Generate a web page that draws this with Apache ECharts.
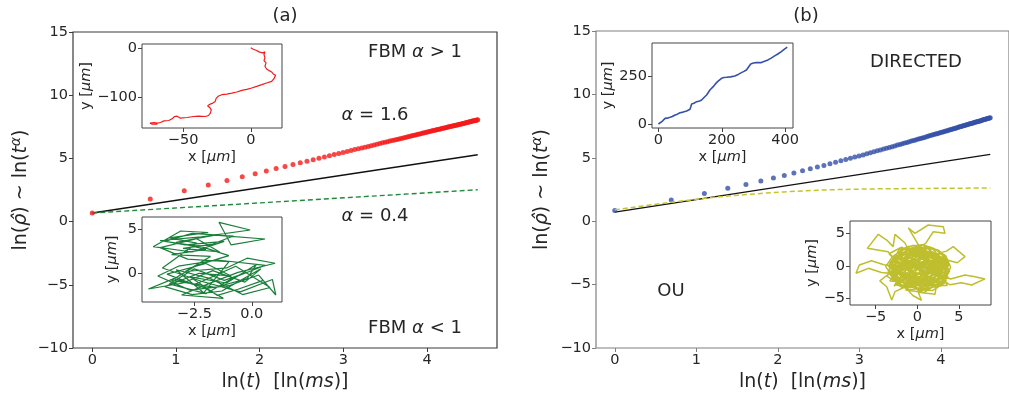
<!DOCTYPE html>
<html><head><meta charset="utf-8">
<script src="https://cdn.jsdelivr.net/npm/echarts@6/dist/echarts.min.js"></script>
<style>html,body{margin:0;padding:0;background:#fff}#c{width:1009px;height:397px}</style>
</head><body><div id="c"></div>
<script>
// ---- data ----
// ln(t) for t = 1..100 ms
const lnT = [0,0.693,1.099,1.386,1.609,1.792,1.946,2.079,2.197,2.303,2.398,2.485,2.565,2.639,2.708,2.773,2.833,2.890,2.944,2.996,
3.045,3.091,3.135,3.178,3.219,3.258,3.296,3.332,3.367,3.401,3.434,3.466,3.497,3.526,3.555,3.584,3.611,3.638,3.664,3.689,
3.714,3.738,3.761,3.784,3.807,3.829,3.850,3.871,3.892,3.912,3.932,3.951,3.970,3.989,4.007,4.025,4.043,4.060,4.078,4.094,
4.111,4.127,4.143,4.159,4.174,4.190,4.205,4.220,4.234,4.248,4.263,4.277,4.290,4.304,4.317,4.331,4.344,4.357,4.369,4.382,
4.394,4.407,4.419,4.431,4.443,4.454,4.466,4.477,4.489,4.500,4.511,4.522,4.533,4.543,4.554,4.564,4.575,4.585,4.595,4.605];
// panel (a): FBM alpha = 1.6 (red dots)
const fbmY = [0.68,1.79,2.44,2.90,3.25,3.55,3.79,4.01,4.20,4.36,4.52,4.66,4.78,4.90,5.01,5.12,5.21,5.30,5.39,5.47,
5.55,5.63,5.70,5.76,5.83,5.89,5.95,6.01,6.07,6.12,6.17,6.23,6.27,6.32,6.37,6.41,6.46,6.50,6.54,6.58,
6.62,6.66,6.70,6.73,6.77,6.81,6.84,6.87,6.91,6.94,6.97,7.00,7.03,7.06,7.09,7.12,7.15,7.18,7.20,7.23,
7.26,7.28,7.31,7.33,7.36,7.38,7.41,7.43,7.45,7.48,7.50,7.52,7.54,7.57,7.59,7.61,7.63,7.65,7.67,7.69,
7.71,7.73,7.75,7.77,7.79,7.81,7.83,7.84,7.86,7.88,7.90,7.92,7.93,7.95,7.97,7.98,8.00,8.02,8.03,8.05];
// panel (b): directed motion (blue dots)
const directedY = [0.85,1.67,2.19,2.59,2.90,3.17,3.41,3.61,3.80,3.97,4.13,4.27,4.40,4.53,4.65,4.76,4.86,4.96,5.06,5.15,
5.23,5.32,5.40,5.47,5.55,5.62,5.69,5.75,5.82,5.88,5.94,6.00,6.05,6.11,6.16,6.21,6.27,6.32,6.36,6.41,
6.46,6.50,6.55,6.59,6.63,6.67,6.71,6.75,6.79,6.83,6.87,6.90,6.94,6.98,7.01,7.04,7.08,7.11,7.14,7.18,
7.21,7.24,7.27,7.30,7.33,7.36,7.39,7.42,7.44,7.47,7.50,7.53,7.55,7.58,7.60,7.63,7.66,7.68,7.70,7.73,
7.75,7.78,7.80,7.82,7.85,7.87,7.89,7.91,7.93,7.96,7.98,8.00,8.02,8.04,8.06,8.08,8.10,8.12,8.14,8.16];
// reference lines (endpoints in ln t)
const refX = [0, 4.605];
const refAY = [0.68, 5.29];      // alpha = 1, panel (a)
const subAY = [0.68, 2.52];      // alpha = 0.4, panel (a)
const refBY = [0.72, 5.27];      // alpha = 1, panel (b)
// panel (b): OU curve (dashed), sampled at selected ln t
const ouLnT = [0,0.693,1.099,1.386,1.609,1.792,1.946,2.079,2.303,2.485,2.708,2.996,3.219,3.401,3.689,3.912,4.094,4.248,4.382,4.500,4.605];
const ouCurve = [0.90,1.50,1.80,1.98,2.10,2.19,2.26,2.31,2.39,2.44,2.49,2.53,2.55,2.56,2.58,2.59,2.60,2.60,2.61,2.61,2.61];
// inset trajectories [x, y] in um
const superX = [0,1.9,4.4,6.1,8.8,10.5,11.7,9.8,10.5,9.8,11.3,10.5,11.7,13.7,15.4,16.6,18.4,17.2,15.4,11.7,8.1,4.4,0.7,-3.0,-6.6,-10.3,-14.0,-17.7,-21.3,-23.8,-25.5,-26.3,-28,-29.9,-31.9,-30.4,-29.2,-29.9,-31.2,-33.6,-38.5,-42.2,-47.1,-52,-54.4,-56.4,-58.1,-60.6,-64.2,-66.7,-69.1,-71.6,-74.5,-75.7,-72.8,-69.1];
const superY = [0,-2.8,-5.5,-8.2,-10.2,-8.2,-10.2,-13.6,-20.3,-25.7,-30.4,-37.2,-42.6,-46,-48.6,-52.7,-55.4,-62.1,-67.5,-70.9,-74.3,-77.7,-81,-83.7,-85.8,-89.1,-91.2,-93.2,-94.5,-97.2,-101.3,-108,-111.4,-113.4,-116.8,-120.2,-124.9,-131.6,-136.4,-138.4,-137.7,-138.4,-140.4,-141.8,-137.7,-138.4,-143.1,-146.5,-147.2,-150.5,-151.8,-150.5,-151.8,-150.5,-153.9,-153.9];
const subPath = [[-0.1,0.2],[-1.2,-0.8],[-2.5,0.5],[-3.6,-1.2],[-2.0,-2.3],[-0.8,-0.5],[0.6,0.9],[-1.5,1.5],[-3.2,0.8],[-4.1,-0.3],
[-2.7,-1.9],[-1.0,-1.4],[0.3,-0.2],[1.05,-2.45],[0.9,-0.7],[-0.5,-2.1],[-2.2,-0.9],[-3.9,0.6],[-2.4,3.4],[-3.6,4.0],
[-1.9,4.6],[-3.1,4.77],[-4.3,3.0],[-2.6,2.4],[-1.2,3.6],[-2.9,3.2],[-4.0,3.7],[-2.2,4.1],[-0.07,4.88],[-1.43,5.75],
[-0.9,3.2],[0.58,3.87],[-1.6,4.3],[-3.3,3.5],[-2.0,2.7],[-3.5,2.1],[-1.8,1.9],[-2.9,0.2],[-1.1,0.6],[-0.2,1.7],
[1.02,1.13],[-0.6,0.1],[-1.9,-1.2],[-3.06,-2.45],[-1.24,-2.82],[-2.1,-1.6],[-3.4,-0.6],[-4.51,-1.77],[-3.0,-1.1],[-1.7,0.3],
[-0.3,-1.0],[0.4,0.5],[-1.3,-2.0],[-2.6,-2.4],[-3.8,-1.5],[-2.3,0.0],[-0.9,-0.3],[-2.0,1.1],[-3.7,-0.1],[-2.5,-1.3],
[-0.7,0.8],[0.8,-1.6],[-0.4,-2.4],[-1.8,-0.6],[-3.3,0.4],[-2.1,-2.2],[-1.0,1.3],[-2.8,1.6],[-4.0,2.9],[-2.4,3.9],
[-1.4,2.4],[-3.0,2.8],[-1.7,3.3],[-0.8,4.2],[-2.6,4.5],[-3.8,3.6],[-2.2,3.0],[-1.0,2.0],[-2.4,0.9],[-3.5,-0.8],
[-1.6,-1.6],[-0.2,-0.6],[0.2,1.0],[-1.1,-1.1],[-2.7,-0.4],[-1.5,-2.5],[-0.6,-1.8],[0.5,-0.8]];
const directedPath = [[0,0],[5,4],[10.6,12.3],[15,14],[21,30],[28,31],[36.8,35.3],[44,40],[52.5,47.6],[60,52],[68.2,59.9],[78,63],
[89.2,68.8],[99.7,77.6],[102,90],[104.9,105.8],[112,110],[120.7,118.1],[130,122],[136.4,127],[144,140],[152.1,153.4],[158,168],
[162.6,179.9],[168,190],[173,197.5],[180,212],[186.7,224],[192,233],[199.3,241.6],[207,246],[215,246.9],[228,249],[241.2,254],
[252,262],[262.2,271.6],[270,278],[277.9,285.7],[284,300],[291.5,317.5],[300,322],[309.3,324.5],[318,325],[325,324.5],[335,331],
[346,338.6],[356,348],[367,359.8],[377,370],[388,382.7],[397,394],[406.8,405.7]];
const ouPath = [[0,0],[1.2,-1.1],[2.5,0.3],[0.8,1.4],[-1.0,0.5],[-2.3,-0.8],[-0.9,-2.1],[0.7,-2.9],[2.1,-1.8],[3.2,-0.4],
[2.0,1.2],[0.3,2.4],[-1.4,1.8],[-2.8,0.9],[-3.4,-0.6],[-2.1,-2.2],[-0.5,-3.3],[1.3,-3.6],[2.8,-2.7],[3.6,-1.1],
[3.1,0.7],[1.6,1.9],[-0.2,2.9],[-1.8,2.5],[-3.0,1.4],[-3.8,-0.1],[-2.9,-1.7],[-1.3,-2.8],[0.4,-3.9],[1.9,-3.2],
[3.3,-2.0],[4.0,-0.2],[3.4,1.6],[2.0,2.7],[0.6,3.3],[-1.1,3.0],[-2.4,2.0],[-3.3,0.4],[-2.6,-1.2],[-1.5,-0.2],
[-4.0,0.2],[-5.5,0.8],[-6.96,0.15],[-7.36,-1.13],[-5.88,-0.36],[-4.3,-1.0],
[-0.4,-1.5],[0.9,-0.6],[1.8,0.8],[0.5,1.1],[-0.8,-0.4],[0.2,-2.0],[1.5,-2.3],[2.6,-1.0],[1.4,0.2],[-0.1,0.6],
[-1.7,-1.0],[-0.6,-2.6],[1.0,-1.7],[2.2,-0.2],[3.0,-1.6],[1.7,-3.0],[0.0,-2.4],[-1.6,-3.1],[-2.7,-2.4],[-1.2,-1.3],
[-3.5,2.2],[-6.0,2.73],[-4.68,4.9],[-3.67,4.02],[-2.9,3.0],[-2.68,4.9],[-1.5,3.6],
[0.3,-0.9],[1.9,-0.9],[2.9,0.4],[2.4,1.9],[1.0,2.2],[-0.5,1.7],[-2.0,1.0],[-1.1,-0.1],[0.6,0.3],[2.0,-0.5],
[0.2,3.1],[-1.08,5.92],[-0.28,5.05],[1.32,6.34],[3.12,6.08],[3.33,5.05],[1.92,5.3],[1.0,3.5],
[-0.7,2.2],[-2.2,0.2],[-3.1,-1.3],[-1.9,-2.9],[-0.2,-3.1],[1.6,-2.4],[3.4,-1.4],[3.7,0.3],[2.7,1.4],[1.1,2.8],
[-0.9,2.6],[-2.6,1.2],[-3.5,-0.9],[-2.3,-3.0],[-0.8,-3.7],[1.0,-3.2],[2.4,-2.2],[3.9,-0.8],[2.9,0.9],[1.3,1.6],
[3.5,2.3],[4.32,2.99],[5.73,1.44],[4.8,0.5],[3.7,0.9],
[2.2,-0.9],[0.5,-1.4],[-1.3,-0.6],[-2.5,0.6],[-1.6,2.1],[0.1,1.8],[1.7,0.6],[2.8,-0.6],[1.2,-1.2],[-0.4,-0.2],
[-1.9,-1.8],[-0.7,-1.0],[0.8,0.9],[2.3,0.1],[3.3,-1.2],[2.0,-2.6],[0.3,-2.8],[-1.4,-2.2],[-2.9,-0.5],[-2.1,1.4],
[4.0,-2.0],[5.73,-1.39],[6.93,-1.65],[8.13,-2.0],[6.53,-2.94],[5.3,-2.6],[3.9,-2.9],
[2.5,-1.6],[1.1,-0.1],[-0.3,1.2],[-1.9,0.3],[-3.0,-0.3],[-2.0,-1.4],[-0.6,-1.9],[0.8,-2.3],[2.3,-3.0],
[2.12,-4.38],[0.12,-4.07],[0.5,-5.3],[-0.5,-4.6],[-1.3,-3.5],
[-0.1,-1.2],[1.4,-0.4],[2.6,0.9],[1.5,2.3],[-0.3,2.1],[-1.5,0.9],[-0.2,0.1],[1.1,0.7],[2.1,-1.3],[0.7,-2.0],
[0.5,-0.3],[-1.2,0.9],[-2.8,-0.2],[-1.5,-1.9],[0.2,-1.1],[1.6,-2.8],[3.1,-2.3],[2.2,-0.8],[3.5,0.9],[2.1,2.0],
[0.4,1.5],[-1.0,2.7],[-2.2,1.6],[-3.2,-1.1],[-1.9,-3.3],[-0.3,-2.2],[1.2,-3.4],[2.7,-1.5],[1.3,-0.2],[2.8,1.1],
[1.9,2.6],[0.0,3.0],[-1.6,1.3],[-3.0,0.7],[-2.4,-2.0],[-0.9,-1.2],[0.6,-3.3],[2.0,-2.0],[3.7,-1.9],[3.2,0.1],
[1.7,1.2],[-0.2,1.9],[-1.9,2.9],[-3.4,1.9],[-2.0,0.1],[-3.3,-2.3],[-1.1,-2.5],[0.9,-1.9],[2.4,-3.4],[3.8,-1.0],
[2.6,0.6],[0.9,2.5],[-0.6,0.8],[-2.5,-1.5],[-0.8,-3.4],[1.5,-1.1],[3.0,-0.2],[1.0,1.0],[-1.4,2.0],[-2.6,0.9],
[-1.0,-0.7],[0.8,-2.6],[2.9,-3.1],[3.4,-0.7],[2.3,1.7],[0.2,1.2],[-1.8,-0.4],[-3.1,0.3],[-2.2,2.5],[-0.4,3.2],
[1.4,2.0],[3.0,1.8],[3.9,0.2],[2.0,-1.4],[0.1,-0.4],[-1.5,-2.7],[0.3,-3.6],[1.8,-3.8],[3.3,-2.6],[1.2,-1.6],
[-0.5,-0.9],[-2.2,-2.8],[-3.6,-1.6],[-2.9,1.0],[-1.3,0.0],[0.7,0.7],[2.5,-0.3],[1.1,-2.7],[-0.7,-1.7],[-2.0,-0.9],
[-0.9,1.6],[1.0,3.1],[2.6,2.4],[3.6,1.1],[2.2,0.3],[0.4,-1.6],[-1.4,-3.7],[0.8,-4.1],[2.0,-3.0],[3.6,-3.0],
[2.9,-1.2],[1.5,0.5],[-0.3,-0.2],[-2.1,1.1],[-3.5,0.0],[-2.7,-0.9],[-1.1,1.1],[0.5,2.0],[2.1,1.0],[3.3,-0.1],
[2.4,-2.4],[0.6,-2.0],[-1.3,-1.5],[-2.8,-3.1],[-1.7,-1.1],[-0.1,0.9],[1.6,-0.6],[3.1,-1.5],[1.8,-2.3],[0.0,-3.0],
[0.9,0.2],[-0.6,-0.8],[-2.0,0.4],[-0.8,1.3],[0.7,-1.3],[2.2,-2.0],[1.0,-3.0],[-0.6,-2.0],[-2.4,-1.1],[-1.3,0.5],
[0.2,1.6],[1.8,2.2],[2.9,-0.4],[1.4,-1.8],[-0.2,-3.2],[-1.8,-2.3],[-3.0,-0.8],[-2.2,1.9],[-0.6,2.5],[1.2,1.3],
[2.6,-1.2],[3.5,-2.2],[2.2,-3.3],[0.5,-2.6],[-1.2,-3.0],[-2.6,-1.9],[-3.2,0.5],[-1.6,2.6],[0.1,2.1],[1.6,2.9],
[2.9,2.0],[3.7,-0.3],[2.4,-1.9],[0.9,-3.6],[-0.9,-2.3],[-2.3,-0.2],[-1.0,0.2],[0.3,-0.6],[1.5,0.9],[3.2,0.6],
[2.0,-1.0],[0.6,-1.1],[-1.0,-1.8],[-2.6,-2.9],[-1.3,-3.3],[0.4,-2.3],[1.9,-1.3],[3.0,0.3],[1.8,1.6],[0.0,2.6],
[-1.7,1.7],[-2.9,-1.3],[-1.4,-0.4],[0.1,-0.1],[1.3,-2.3],[2.8,-2.0],[3.6,-0.9],[2.5,0.2],[0.8,0.5],[-0.9,-0.2],
[-0.9,-2.9],[-2.68,-3.97],[-3.07,-5.26],[-3.67,-3.2],[-4.5,-2.3],[-3.2,-1.0],[-1.7,0.6],[-0.5,2.3],[0.9,1.0],[2.4,-0.7],
[3.6,0.4],[2.5,1.6],[0.6,2.6],[-1.3,2.3],[-2.7,0.5],[-1.8,-1.1],[0.0,-1.6],[1.8,-1.9],[3.0,-0.9],[1.9,0.4],[0.2,0.3]];
// tick labels
const mainXTicks = [0,1,2,3,4];
const mainYTicks = [-10,-5,0,5,10,15];

// ---- chart ----
const FF = 'DejaVu Sans';
const TXT = '#262626';
function rich(size, color){
  return {
    n:{fontSize:size,fontFamily:FF,color:color,fill:color},
    i:{fontSize:size,fontFamily:FF,fontStyle:'italic',color:color,fill:color},
    s:{fontSize:Math.round(size*0.72),fontFamily:FF,fontStyle:'italic',color:color,fill:color,padding:[0,0,Math.round(size*0.55),0]}
  };
}
const fmt = d => v => (v < 0 ? '\u2212' : '') + Math.abs(v).toFixed(d);
const zip = (a,b) => a.map((x,i)=>[x,b[i]]);

function axis(gi, min, max, ticks, dec, color, name, nameGap, nameSize, rot){
  return {
    type:'value', gridIndex:gi, min:min, max:max,
    axisLine:{show:false, onZero:false},
    splitLine:{show:false},
    axisTick:{show:true, length:4, customValues:ticks, lineStyle:{color:color, width:1}},
    axisLabel:{customValues:ticks, formatter:fmt(dec), fontFamily:FF, fontSize:14.5, color:TXT, margin:5},
    name:name, nameLocation:'middle', nameGap:nameGap, nameRotate:rot,
    nameTextStyle:{fontFamily:FF, fontSize:nameSize, color:TXT, rich:rich(nameSize, TXT)}
  };
}
const mainXName = '{n|ln(}{i|t}{n|)  [ln(}{i|ms}{n|)]}';
const mainYName = '{n|ln(}{i|\u03c1\u0302}{n|) ~ ln(}{i|t}{s|\u03b1}{n|)}';
const xum = '{n|x [}{i|\u03bcm}{n|]}';
const yum = '{n|y [}{i|\u03bcm}{n|]}';

const insetGrid = (l,t,w,h) => ({left:l, top:t, width:w, height:h, show:true, backgroundColor:'#fff', borderColor:'#444', borderWidth:1});

const option = {
  backgroundColor:'#fff',
  animation:false,
  grid:[
    {left:73, top:32, width:424, height:316, show:true, borderColor:'#3a3a3a', borderWidth:1.2},
    {left:596, top:31, width:422, height:317, show:true, borderColor:'#808080', borderWidth:1.2},
    insetGrid(142,44,140,84),
    insetGrid(142,217,140,85),
    insetGrid(652,43,141,85),
    insetGrid(850,221,141,84)
  ],
  xAxis:[
    axis(0,-0.23,4.835,mainXTicks,0,'#3a3a3a',mainXName,22,19,0),
    axis(1,-0.23,4.835,mainXTicks,0,'#808080',mainXName,22,19,0),
    axis(2,-80.4,23.1,[-50,0],0,'#444',xum,22,14.5,0),
    axis(3,-4.79,1.32,[-2.5,0],1,'#444',xum,22,14.5,0),
    axis(4,-20.3,425,[0,200,400],0,'#444',xum,22,14.5,0),
    axis(5,-8.08,8.85,[-5,0,5],0,'#444',xum,22,14.5,0)
  ],
  yAxis:[
    axis(0,-10,15,mainYTicks,0,'#3a3a3a',mainYName,40,19,90),
    axis(1,-10,15,mainYTicks,0,'#808080',mainYName,42,19,90),
    axis(2,-161.6,7.7,[-100,0],0,'#444',yum,42,14.5,90),
    axis(3,-3.24,6.35,[0,5],0,'#444',yum,22,14.5,90),
    axis(4,-21,428,[0,250],0,'#444',yum,36,14.5,90),
    axis(5,-6.03,6.96,[-5,0,5],0,'#444',yum,30,14.5,90)
  ],
  series:[
    {type:'line', xAxisIndex:0, yAxisIndex:0, data:zip(refX,refAY), symbol:'none', lineStyle:{color:'#111',width:1.3}, z:2},
    {type:'line', xAxisIndex:0, yAxisIndex:0, data:zip(refX,subAY), symbol:'none', lineStyle:{color:'#1e8a3c',width:1.4,type:[5,3]}, z:2},
    {type:'scatter', xAxisIndex:0, yAxisIndex:0, data:zip(lnT,fbmY), symbolSize:5, itemStyle:{color:'#f51a1a'}, z:3},
    {type:'line', xAxisIndex:1, yAxisIndex:1, data:zip(refX,refBY), symbol:'none', lineStyle:{color:'#111',width:1.3}, z:2},
    {type:'scatter', xAxisIndex:1, yAxisIndex:1, data:zip(lnT,directedY), symbolSize:5, itemStyle:{color:'#3550a8'}, z:3},
    {type:'line', xAxisIndex:1, yAxisIndex:1, data:zip(ouLnT,ouCurve), symbol:'none', lineStyle:{color:'#c6c42c',width:1.5,type:[5,3]}, z:4},
    {type:'line', xAxisIndex:2, yAxisIndex:2, data:zip(superX,superY), symbol:'none', lineStyle:{color:'#f51a1a',width:1.2}, z:5},
    {type:'line', xAxisIndex:3, yAxisIndex:3, data:subPath, symbol:'none', lineStyle:{color:'#1a7f3a',width:1.2}, z:5},
    {type:'line', xAxisIndex:4, yAxisIndex:4, data:directedPath, symbol:'none', lineStyle:{color:'#3550a8',width:1.6}, z:5},
    {type:'line', xAxisIndex:5, yAxisIndex:5, data:ouPath, symbol:'none', lineStyle:{color:'#bfbe2e',width:1.5}, z:5}
  ],
  graphic:[
    {type:'text', x:285, y:16, style:{text:'(a)', font:'18px "DejaVu Sans"', fill:TXT, align:'center', verticalAlign:'middle'}},
    {type:'text', x:806, y:16, style:{text:'(b)', font:'18px "DejaVu Sans"', fill:TXT, align:'center', verticalAlign:'middle'}},
    {type:'text', x:415, y:52, style:{text:'{n|FBM }{i|\u03b1}{n| > 1}', rich:rich(18,TXT), align:'center', verticalAlign:'middle'}},
    {type:'text', x:375, y:115, style:{text:'{i|\u03b1}{n| = 1.6}', rich:rich(18,TXT), align:'center', verticalAlign:'middle'}},
    {type:'text', x:375, y:216, style:{text:'{i|\u03b1}{n| = 0.4}', rich:rich(18,TXT), align:'center', verticalAlign:'middle'}},
    {type:'text', x:415, y:328, style:{text:'{n|FBM }{i|\u03b1}{n| < 1}', rich:rich(18,TXT), align:'center', verticalAlign:'middle'}},
    {type:'text', x:916, y:62, style:{text:'{n|DIRECTED}', rich:rich(18,TXT), align:'center', verticalAlign:'middle'}},
    {type:'text', x:671, y:291, style:{text:'{n|OU}', rich:rich(18,TXT), align:'center', verticalAlign:'middle'}}
  ]
};
const chart = echarts.init(document.getElementById('c'), null, {renderer:'canvas'});
chart.setOption(option);
</script></body></html>
